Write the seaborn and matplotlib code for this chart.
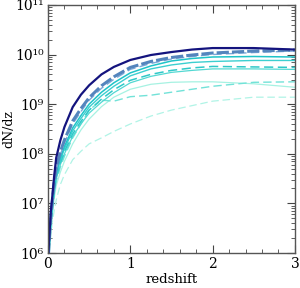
import numpy as np
import matplotlib
matplotlib.use("Agg")
import matplotlib.pyplot as plt
import matplotlib.ticker as mticker
import seaborn as sns

# redshift grid and log10(dN/dz) for each curve
z = [0.005, 0.01, 0.02, 0.035, 0.05, 0.075, 0.1, 0.15, 0.2, 0.3, 0.4,
     0.5, 0.65, 0.8, 1.0, 1.25, 1.5, 1.75, 2.0, 2.5, 3.0]

navy_solid = [6.0, 6.15, 6.45, 6.85, 7.1, 7.55, 7.92, 8.27, 8.54, 8.94, 9.19,
              9.38, 9.6, 9.75, 9.89, 9.99, 10.05, 10.1, 10.13, 10.13, 10.10]
steel_dash = [5.95, 6.1, 6.38, 6.75, 7.0, 7.42, 7.72, 8.04, 8.28, 8.66, 8.91,
              9.13, 9.37, 9.55, 9.74, 9.86, 9.94, 9.99, 10.03, 10.07, 10.09]
blue_dash = [5.95, 6.08, 6.35, 6.72, 6.97, 7.38, 7.68, 7.98, 8.22, 8.6, 8.85,
             9.08, 9.32, 9.5, 9.7, 9.82, 9.91, 9.96, 10.0, 10.04, 10.07]
dturq_solid = [5.9, 6.05, 6.32, 6.68, 6.93, 7.33, 7.62, 7.92, 8.15, 8.52, 8.77,
               9.0, 9.24, 9.43, 9.63, 9.77, 9.87, 9.92, 9.95, 9.96, 9.95]
mturq_solid = [5.9, 6.03, 6.3, 6.65, 6.9, 7.3, 7.58, 7.87, 8.1, 8.46, 8.71,
               8.94, 9.17, 9.36, 9.57, 9.71, 9.79, 9.84, 9.86, 9.88, 9.88]
turq_dash = [5.88, 6.0, 6.27, 6.62, 6.86, 7.25, 7.53, 7.82, 8.05, 8.4, 8.65,
             8.88, 9.1, 9.29, 9.48, 9.6, 9.68, 9.73, 9.76, 9.75, 9.74]
turq_solid = [5.88, 6.0, 6.25, 6.6, 6.83, 7.22, 7.5, 7.78, 8.0, 8.35, 8.6,
              8.82, 9.04, 9.23, 9.43, 9.56, 9.64, 9.68, 9.71, 9.71, 9.70]
aqua_dash = [5.85, 5.98, 6.22, 6.56, 6.8, 7.18, 7.45, 7.73, 7.95, 8.32, 8.6,
             8.88, 9.08, 9.06, 9.15, 9.18, 9.24, 9.3, 9.36, 9.44, 9.45]
pale_solid = [5.8, 5.95, 6.18, 6.5, 6.73, 7.1, 7.36, 7.63, 7.85, 8.2, 8.48,
              8.7, 8.95, 9.14, 9.3, 9.4, 9.44, 9.45, 9.45, 9.41, 9.34]
pale_dash = [5.6, 5.8, 6.05, 6.35, 6.6, 6.85, 7.07, 7.38, 7.58, 7.88, 8.05,
             8.2, 8.32, 8.45, 8.6, 8.76, 8.88, 8.97, 9.06, 9.14, 9.14]

dash = (0, (6, 3))
curves = [
    (pale_dash, "#b0f4e6", dash, 0.9),
    (pale_solid, "#a6f2e2", "-", 0.9),
    (aqua_dash, "#72e2d8", dash, 1.0),
    (turq_solid, "#52d8d2", "-", 0.9),
    (turq_dash, "#2ec8c8", dash, 1.1),
    (mturq_solid, "#3ccfd0", "-", 1.0),
    (dturq_solid, "#1ec4c8", "-", 1.1),
    (blue_dash, "#7aa8d8", dash, 1.0),
    (steel_dash, "#5485bd", (0, (4, 1)), 2.2),
    (navy_solid, "#14147e", "-", 1.6),
]

plt.rcParams["font.family"] = "DejaVu Serif"

SUP = str.maketrans("0123456789-", "⁰¹²³⁴⁵⁶⁷⁸⁹⁻")


def pow_label(v, pos):
    e = int(round(np.log10(v)))
    return "10" + str(e).translate(SUP)


fig = plt.figure(figsize=(3.0, 2.88), dpi=100)
ax = fig.add_axes([0.16, 0.1215, 0.823, 0.8615])

for vals, col, ls, lw in curves:
    sns.lineplot(x=z, y=10 ** np.array(vals), ax=ax, color=col,
                 linestyle=ls, linewidth=lw)

ax.set_yscale("log")
ax.set_xlim(0, 3)
ax.set_ylim(1e6, 1e11)
ax.xaxis.set_major_locator(mticker.MultipleLocator(1))
ax.xaxis.set_minor_locator(mticker.MultipleLocator(0.2))
ax.yaxis.set_major_locator(mticker.LogLocator(base=10, numticks=10))
ax.yaxis.set_major_formatter(mticker.FuncFormatter(pow_label))
ax.yaxis.set_minor_locator(mticker.LogLocator(base=10, subs=np.arange(2, 10), numticks=10))
ax.yaxis.set_minor_formatter(mticker.NullFormatter())
ax.tick_params(which="both", direction="in", top=True, right=True,
               color="#444444", labelsize=10, pad=3)
ax.tick_params(which="major", length=6, width=0.8)
ax.tick_params(which="minor", length=3, width=0.6)
for s in ax.spines.values():
    s.set_color("#555555")
    s.set_linewidth(1.0)

ax.set_xlabel("redshift", fontsize=9.5, labelpad=1)
ax.set_ylabel("dN/dz", fontsize=9, labelpad=0)

fig.savefig("out.png", dpi=100)
